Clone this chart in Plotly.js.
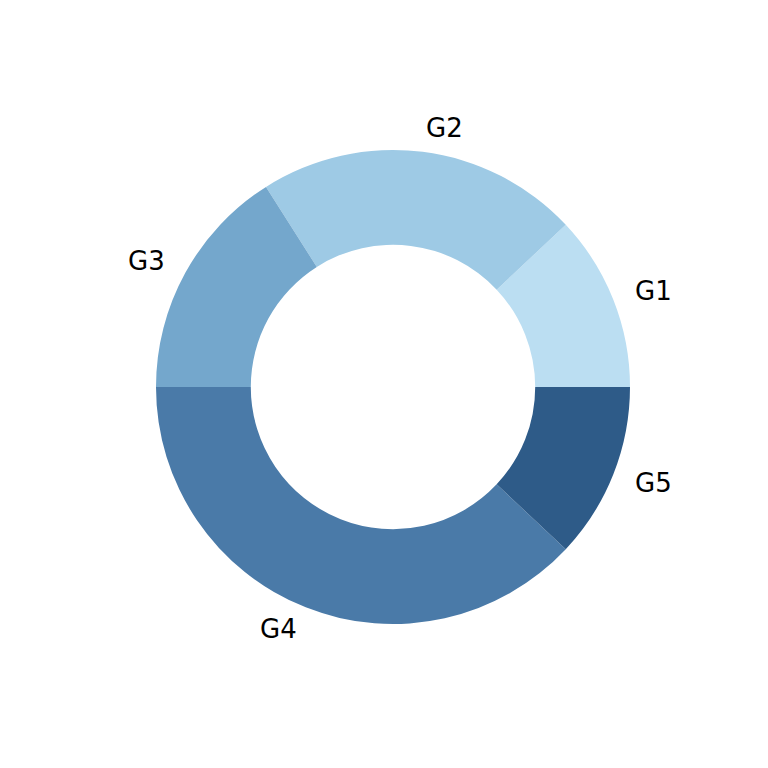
<!DOCTYPE html>
<html>
<head>
<meta charset="utf-8">
<script src="https://cdn.plot.ly/plotly-3.0.1.min.js"></script>
<style>
  html, body { margin: 0; padding: 0; background: #fff; }
  #chart { width: 768px; height: 768px; }
</style>
</head>
<body>
<div id="chart"></div>
<script>
// donut — five groups, counterclockwise from 3 o'clock
const labels = ['G1', 'G2', 'G3', 'G4', 'G5'];
const values = [12, 22, 16, 38, 12];
const colors = ['#bbdef2', '#9ecae5', '#74a7cc', '#4a7aa8', '#2e5b88'];

const W = 768, H = 768;
const CX = 393, CY = 387, R = 237;   // pixel centre / outer radius
const LABEL_R = 1.1;

// labels sit outside the ring at 1.1 × radius, placed from the slice mid-angles
const total = values.reduce((a, b) => a + b, 0);
let acc = 0;
const annotations = values.map((v, i) => {
  const mid = (acc + v / 2) / total * 2 * Math.PI;
  acc += v;
  const px = CX + LABEL_R * R * Math.cos(mid);
  const py = CY - LABEL_R * R * Math.sin(mid);
  const right = Math.cos(mid) >= 0;
  return {
    x: px / W, y: 1 - py / H, xref: 'paper', yref: 'paper',
    text: labels[i], showarrow: false,
    xanchor: right ? 'left' : 'right', yanchor: 'middle',
    xshift: right ? -2 : 2,   // cancel the annotation box padding
    font: { family: 'DejaVu Sans', size: 26, color: '#000' },
  };
});

// plotly ends the first ccw slice at `rotation`, so shift by its span
const rotation = 90 - values[0] / total * 360;

Plotly.newPlot('chart', [{
  type: 'pie',
  labels: labels, values: values,
  marker: { colors: colors, line: { width: 0 } },
  hole: 0.6,
  sort: false,
  direction: 'counterclockwise',
  rotation: rotation,
  textinfo: 'none',
  hoverinfo: 'label+percent',
  showlegend: false,
  domain: { x: [(CX - R) / W, (CX + R) / W], y: [1 - (CY + R) / H, 1 - (CY - R) / H] },
}], {
  width: W, height: H,
  paper_bgcolor: '#fff',
  margin: { t: 0, r: 0, b: 0, l: 0 },
  annotations: annotations,
}, { displayModeBar: false });
</script>
</body>
</html>
